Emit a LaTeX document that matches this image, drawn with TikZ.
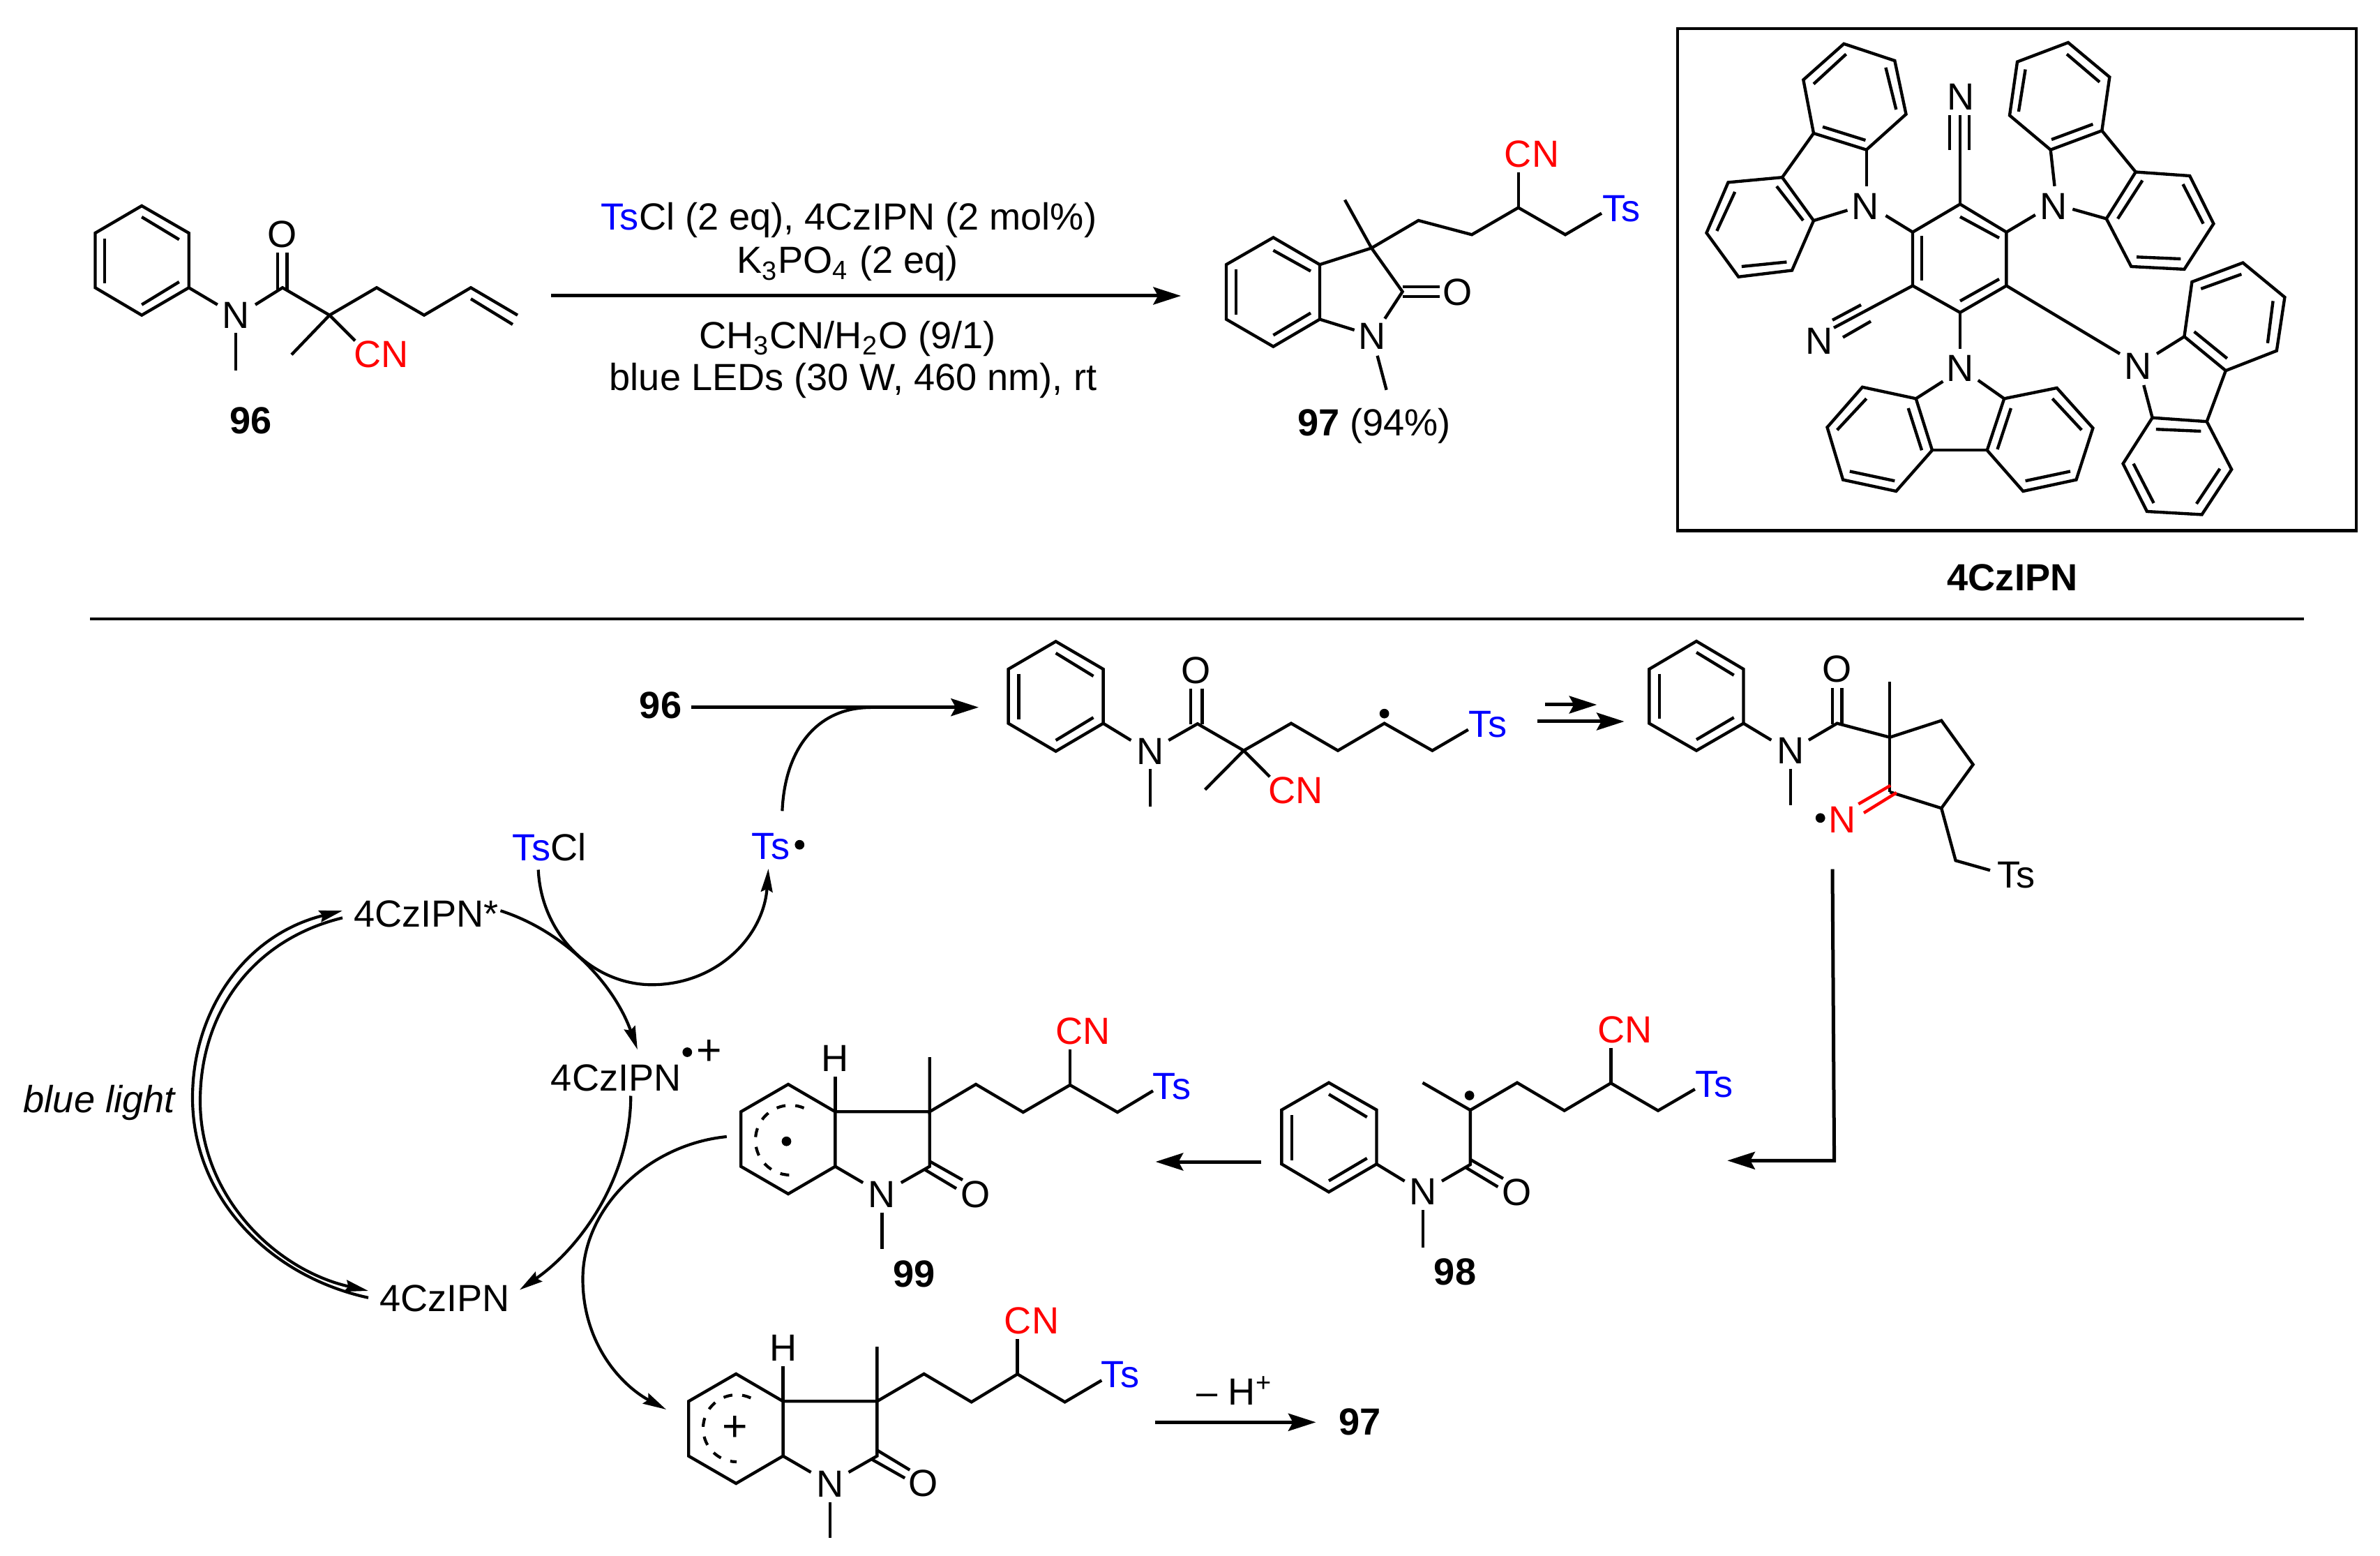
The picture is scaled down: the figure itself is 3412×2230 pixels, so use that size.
\documentclass[tikz,border=0pt]{standalone}
\usepackage{fontspec}
\setmainfont{Liberation Sans}
\usetikzlibrary{arrows.meta}
\tikzset{
  bond/.style={line width=1.05pt},
  redbond/.style={line width=1.05pt,color=red},
  thinarc/.style={line width=1pt},
  dasharc/.style={line width=1pt,dash pattern={on 3.1pt off 3.4pt}},
  mainarrow/.style={line width=1.2pt,-{Stealth[length=9.5pt,width=6pt,inset=1.6pt]}},
  curvearrow/.style={line width=1pt,-{Stealth[length=8pt,width=4pt,inset=1pt]}},
  atomlab/.style={inner sep=0.75pt,font=\fontsize{13}{15}\selectfont},
  boldlab/.style={inner sep=0.75pt,font=\fontsize{13}{15}\selectfont\bfseries},
  pluslab/.style={inner sep=0.75pt,font=\fontsize{15}{15}\selectfont},
  raddot/.style={circle,fill=black,inner sep=0pt,minimum size=3.3pt},
}
\newcommand{\cn}{\textcolor{red}{CN}}
\newcommand{\ts}{\textcolor{blue}{Ts}}
\begin{document}
\begin{tikzpicture}[x=0.24pt,y=0.24pt,yscale=-1,xscale=1]
\useasboundingbox (0,0) rectangle (3412,2230);

%Compound 96
\draw [bond] (203.2,295) -- (270.7,334) -- (270.7,412.3) -- (203.2,451.7) -- (136.5,412.3) -- (136.5,334) -- cycle ;
\draw [bond] (203.2,311) -- (256.8,343.3) ;
\draw [bond] (256.8,404) -- (203.2,436.7) ;
\draw [bond] (149.7,341.7) -- (149.7,406) ;
\draw [bond] (270.7,412.3) -- (311.8,436.7) ;
\draw [bond] (366,436.7) -- (405,412.3) -- (472.4,451.7) -- (540,412.3) -- (608,451.7) -- (675,412.3) -- (742,451.7) ;
\draw [bond] (675,428.3) -- (735,465) ;
\draw [bond] (398.3,362.3) -- (398.3,415) ;
\draw [bond] (411.5,362.3) -- (411.5,415) ;
\draw [bond] (472.4,451.7) -- (418,508.3) ;
\draw [bond] (472.4,451.7) -- (509,488.3) ;
\draw [bond] (338,477.3) -- (338,530.7) ;
% Text Node
\node [atomlab] (nA) at (338,452.3) {N};
\node [atomlab] (oA) at (405,336) {O};
\node [atomlab] (cnA) at (546.5,508.3) {\cn};
\node [boldlab] (lbl96) at (359.4,602.7) {96};

%Conditions
\coordinate (condstart) at (790,424);
\coordinate (condend) at (1693,424);
\draw [mainarrow] (condstart) -- (condend) ;
% Text Node
\node [atomlab] (condA) at (1217,316) {\ts Cl (2 eq), 4CzIPN (2 mol\%)};
\node [atomlab] (condB) at (1215,378) {K\textsubscript{3}PO\textsubscript{4} (2 eq)};
\node [atomlab] (condC) at (1215,485) {CH\textsubscript{3}CN/H\textsubscript{2}O (9/1)};
\node [atomlab] (condD) at (1223,545) {blue LEDs (30 W, 460 nm), rt};

%Compound 97
\draw [bond] (1825.4,340.4) -- (1892,379.2) -- (1892,457.6) -- (1825.4,496.7) -- (1758,457.6) -- (1758,379.2) -- cycle ;
\draw [bond] (1825.4,358.8) -- (1879,388.6) ;
\draw [bond] (1879,448.6) -- (1825.4,480.4) ;
\draw [bond] (1771.8,386) -- (1771.8,450.6) ;
\draw [bond] (1892,379.2) -- (1966.2,355.5) -- (2033.5,316) -- (2110,336.3) -- (2176.7,297.6) -- (2244,336.3) -- (2296,305.7) ;
\draw [bond] (1928,286.5) -- (1966.2,355.5) -- (2010.6,418) -- (1985.3,456.7) ;
\draw [bond] (1892,457.6) -- (1941.7,473) ;
\draw [bond] (2176.7,247.3) -- (2176.7,297.6) ;
\draw [bond] (2010.6,411) -- (2064,411) ;
\draw [bond] (2010.6,425.3) -- (2064,425.3) ;
\draw [bond] (1974.6,509.8) -- (1987.6,558.8) ;
% Text Node
\node [atomlab] (nB) at (1967,482) {N};
\node [atomlab] (oB) at (2089.4,419) {O};
\node [atomlab] (cnB) at (2196,221) {\cn};
\node [atomlab] (tsB) at (2324.4,298.8) {\ts};
\node [atomlab] (lbl97) at (1970,610) {\textbf{97} (94\%)};

%Box with 4CzIPN
\draw [bond] (2405,41) rectangle (3378,760.5) ;
%central ring
\draw [bond] (2810,292.6) -- (2876.4,332.7) -- (2876.4,409.5) -- (2810,447.9) -- (2742,409.5) -- (2742,332.7) -- cycle ;
\draw [bond] (2810,310.7) -- (2866,341) ;
\draw [bond] (2866,400) -- (2810,431.4) ;
\draw [bond] (2755,338) -- (2755,402.3) ;
%nitriles
\draw [bond] (2810,292.6) -- (2810,165.4) ;
\draw [bond] (2795,165.4) -- (2795,214.7) ;
\draw [bond] (2823,165.4) -- (2823,214.7) ;
\draw [bond] (2742,409.5) -- (2629,469.8) ;
\draw [bond] (2627,458.8) -- (2668,436.9) ;
\draw [bond] (2642,483.5) -- (2682,460.5) ;
%carbazole upper left
\draw [bond] (2742,332.7) -- (2703.4,309) ;
\draw [bond] (2675.7,214.7) -- (2675.7,266.8) ;
\draw [bond] (2600,316.2) -- (2648.5,301.4) ;
\draw [bond] (2675.7,214.7) -- (2732.5,163.7) -- (2716.3,87) -- (2643.4,62.8) -- (2585.3,114.4) -- (2600,191) -- cycle ;
\draw [bond] (2674.4,201) -- (2613,181.8) ;
\draw [bond] (2718.3,157) -- (2703.4,96.8) ;
\draw [bond] (2646.6,77.6) -- (2600,120.4) ;
\draw [bond] (2600,191) -- (2555,254.2) ;
\draw [bond] (2555,254.2) -- (2600,316.2) -- (2569,387.5) -- (2492.3,396.8) -- (2446.5,333.8) -- (2477.5,261.4) -- cycle ;
\draw [bond] (2547,267) -- (2585,316) ;
\draw [bond] (2561.4,375.5) -- (2496.8,382) ;
\draw [bond] (2461.3,331) -- (2487.2,275) ;
%carbazole upper right
\draw [bond] (2876.4,332.7) -- (2917.8,308) ;
\draw [bond] (2939.7,214.7) -- (2945.5,266.8) ;
\draw [bond] (2971.3,299.8) -- (3019.7,313.5) ;
\draw [bond] (2939.7,214.7) -- (2881,165.4) -- (2892,88.6) -- (2964.9,61) -- (3024.3,110.5) -- (3013.3,187.3) -- cycle ;
\draw [bond] (2941,200) -- (3000.4,178) ;
\draw [bond] (2893.9,160) -- (2903.6,99.5) ;
\draw [bond] (2963,77.6) -- (3010,117.6) ;
\draw [bond] (3013.3,187.3) -- (3061.7,246.5) ;
\draw [bond] (3061.7,246.5) -- (3139.2,252) -- (3173.4,320.6) -- (3131.4,385.9) -- (3055.3,382) -- (3019.7,313.5) -- cycle ;
\draw [bond] (3071.4,258.6) -- (3036,313.5) ;
\draw [bond] (3129.5,264) -- (3158.6,320.6) ;
\draw [bond] (3126.3,371) -- (3063,368.3) ;
%carbazole bottom
\draw [bond] (2810,447.9) -- (2810,500) ;
\draw [bond] (2785.4,546.6) -- (2746.7,571.3) ;
\draw [bond] (2835.8,545) -- (2873.2,571.3) ;
\draw [bond] (2746.7,571.3) -- (2669.9,554.8) -- (2619.5,612.4) -- (2642.1,687.6) -- (2718.3,704) -- (2770,645.3) -- cycle ;
\draw [bond] (2675.7,571.3) -- (2633.7,616.3) ;
\draw [bond] (2651.8,675.5) -- (2716.3,689.2) ;
\draw [bond] (2735.7,585) -- (2755,645.3) ;
\draw [bond] (2770,645.3) -- (2848.7,645.3) ;
\draw [bond] (2873.2,571.3) -- (2948.7,556) -- (3000.4,613.5) -- (2976.5,687.6) -- (2900.3,704) -- (2848.7,645.3) -- cycle ;
\draw [bond] (2942.3,571.3) -- (2984.2,616.3) ;
\draw [bond] (2968,675.5) -- (2903.6,689.2) ;
\draw [bond] (2882.9,585) -- (2863.5,644) ;
%carbazole right
\draw [bond] (2876.4,409.5) -- (3039,507) ;
\draw [bond] (3092,507) -- (3131.4,482.4) ;
\draw [bond] (3073.3,552) -- (3085.6,598.7) ;
\draw [bond] (3131.4,482.4) -- (3142.4,404) -- (3215.4,376.6) -- (3275.4,426) -- (3263.8,502.7) -- (3190.8,531.2) -- cycle ;
\draw [bond] (3155.3,413.9) -- (3213.4,393) ;
\draw [bond] (3258.6,431.4) -- (3250.9,491.8) ;
\draw [bond] (3145.6,475.3) -- (3192.8,513.7) ;
\draw [bond] (3190.8,531.2) -- (3163.7,604.2) ;
\draw [bond] (3085.6,598.7) -- (3163.7,604.2) -- (3199.2,672.8) -- (3156.6,737.5) -- (3077.9,733) -- (3043.6,664.5) -- cycle ;
\draw [bond] (3155.3,618) -- (3090.8,615.2) ;
\draw [bond] (3182.4,671.7) -- (3148.9,722) ;
\draw [bond] (3087.6,721) -- (3058.5,664.5) ;
% Text Node
\node [atomlab] (nCa) at (2810.6,139) {N};
\node [atomlab] (nCb) at (2608,489) {N};
\node [atomlab] (nCc) at (2674.4,296) {N};
\node [atomlab] (nCd) at (2943.6,296) {N};
\node [atomlab] (nCe) at (2810,527.4) {N};
\node [atomlab] (nCf) at (3065,524.7) {N};
\node [boldlab] (lblcz) at (2885,828) {4CzIPN};

%Separator
\draw [bond] (129,887) -- (3303,887) ;

% Text Node
\node [boldlab] (lbl96b) at (947,1010.7) {96};
\coordinate (startrad) at (991,1013.7);
\coordinate (endrad) at (1403,1013.7);
\draw [mainarrow] (startrad) -- (endrad) ;

%Radical adduct
\draw [bond] (1513.6,919.3) -- (1581.6,959) -- (1581.6,1036.7) -- (1513.6,1076.7) -- (1445.6,1036.7) -- (1445.6,959) -- cycle ;
\draw [bond] (1513.6,936) -- (1567.5,969) ;
\draw [bond] (1567.5,1028.3) -- (1513.6,1061) ;
\draw [bond] (1460.5,965.7) -- (1460.5,1031) ;
\draw [bond] (1581.6,1036.7) -- (1621.4,1061) ;
\draw [bond] (1675.3,1061) -- (1716.8,1037.3) -- (1783,1075.7) -- (1851,1036.7) -- (1918,1075.7) -- (1984.6,1036.7) -- (2053.4,1075.7) -- (2104.8,1045.7) ;
\draw [bond] (1706.8,986.7) -- (1706.8,1038.3) ;
\draw [bond] (1723.4,986.7) -- (1723.4,1038.3) ;
\draw [bond] (1783,1075.7) -- (1727.5,1131.7) ;
\draw [bond] (1783,1075.7) -- (1820.4,1113.3) ;
\draw [bond] (1648.8,1102.3) -- (1648.8,1156) ;
% Text Node
\node [atomlab] (nD) at (1648.8,1076.7) {N};
\node [atomlab] (oD) at (1715,960.7) {O};
\node [atomlab] (cnD) at (1857.7,1132.7) {\cn};
\node [atomlab] (tsD) at (2133,1038.3) {\ts};
\node [raddot] (dotD) at (1984.6,1022.7) {};

%Cyclisation arrows
\coordinate (stepastart) at (2215.3,1010);
\coordinate (stepaend) at (2289.3,1010);
\coordinate (stepbstart) at (2204,1034);
\coordinate (stepbend) at (2328.6,1034);
\draw [mainarrow] (stepastart) -- (stepaend) ;
\draw [mainarrow] (stepbstart) -- (stepbend) ;

%Iminyl radical
\draw [bond] (2432,919) -- (2499.5,959) -- (2499.5,1036.7) -- (2432,1075.7) -- (2364.3,1036.7) -- (2364.3,959) -- cycle ;
\draw [bond] (2432,935) -- (2485.7,967.7) ;
\draw [bond] (2485.7,1028.3) -- (2432,1060) ;
\draw [bond] (2379,965.7) -- (2379,1030) ;
\draw [bond] (2499.5,1036.7) -- (2539.3,1060.7) ;
\draw [bond] (2592.9,1060.7) -- (2633.7,1036.7) -- (2709.2,1056.7) ;
\draw [bond] (2627,986) -- (2627,1038.3) ;
\draw [bond] (2640.3,986) -- (2640.3,1038.3) ;
\draw [bond] (2709.2,977.3) -- (2709.2,1135) ;
\draw [bond] (2709.2,1056.7) -- (2783.2,1032.7) -- (2828.6,1095.7) -- (2783.2,1158.3) -- (2709.2,1135) ;
\draw [redbond] (2710.2,1125.7) -- (2664.3,1152.3) ;
\draw [redbond] (2718.9,1136) -- (2672,1165) ;
\draw [bond] (2783.2,1158.3) -- (2803.6,1233.3) -- (2853,1247.3) ;
\draw [bond] (2566.8,1101.7) -- (2566.8,1154.3) ;
% Text Node
\node [atomlab] (nE) at (2567.3,1076) {N};
\node [atomlab] (oE) at (2633.7,959.3) {O};
\node [atomlab,text=red] (nF) at (2641.3,1175) {N};
\node [raddot] (dotE) at (2609.7,1172.3) {};
\node [atomlab] (tsE) at (2890.3,1254.3) {Ts};

%Arrow down to 98
\coordinate (downstart) at (2627,1245.7);
\coordinate (downbend) at (2629.6,1663.3);
\coordinate (downend) at (2476.3,1663.3);
\draw [mainarrow] (downstart) -- (downbend) -- (downend) ;

%Compound 98
\draw [bond] (1905,1551.7) -- (1973.5,1590.7) -- (1973.5,1668.3) -- (1905,1708.3) -- (1837.4,1668.3) -- (1837.4,1590.7) -- cycle ;
\draw [bond] (1905,1568.3) -- (1959.7,1601) ;
\draw [bond] (1959.7,1660) -- (1905,1692.3) ;
\draw [bond] (1851.8,1598.3) -- (1851.8,1662.7) ;
\draw [bond] (1973.5,1668.3) -- (2013.6,1692.7) ;
\draw [bond] (2067,1692.7) -- (2107.8,1669) -- (2107.8,1591) -- (2175,1551.7) -- (2242.7,1591.7) -- (2309.3,1552.3) -- (2377,1591.7) -- (2429.8,1561) ;
\draw [bond] (2039.5,1551.7) -- (2107.8,1591) ;
\draw [bond] (2309.3,1501.7) -- (2309.3,1552.3) ;
\draw [bond] (2107.8,1661.7) -- (2154.9,1689) ;
\draw [bond] (2101.5,1673.3) -- (2147.4,1701) ;
\draw [bond] (2040,1734.3) -- (2040,1787.7) ;
% Text Node
\node [atomlab] (nG) at (2040,1708.3) {N};
\node [atomlab] (oG) at (2175,1709.3) {O};
\node [atomlab] (cnG) at (2329.4,1476) {\cn};
\node [atomlab] (tsG) at (2457.4,1554) {\ts};
\node [raddot] (dotG) at (2106.6,1570) {};
\node [boldlab] (lbl98) at (2086,1823) {98};

\coordinate (leftstart) at (1807.6,1665);
\coordinate (leftend) at (1656.6,1665);
\draw [mainarrow] (leftstart) -- (leftend) ;

%Compound 99
\draw [bond] (1130,1554) -- (1197.4,1593.3) -- (1197.4,1671.7) -- (1130,1711) -- (1062.2,1671.7) -- (1062.2,1593.3) -- cycle ;
\draw [bond] (1197.4,1593.3) -- (1332.7,1593.3) -- (1332.7,1671.7) -- (1291.8,1695) ;
\draw [bond] (1197.4,1671.7) -- (1237.2,1695) ;
\draw [bond] (1332.7,1515) -- (1332.7,1593.3) -- (1399,1554) -- (1466.8,1594) -- (1534,1555) -- (1602,1594) -- (1653,1563.3) ;
\draw [bond] (1534,1504.3) -- (1534,1555) ;
\draw [bond] (1197.4,1543.3) -- (1197.4,1593.3) ;
\draw [bond] (1332.7,1664.3) -- (1380,1691) ;
\draw [bond] (1326.5,1676.7) -- (1371,1703.3) ;
\draw [bond] (1264.3,1737.7) -- (1264.3,1790) ;
\draw [dasharc] (1133,1634) ++(-67:50) arc[start angle=-67,end angle=-271,radius=50] ;
% Text Node
\node [atomlab] (hH) at (1197,1517.3) {H};
\node [atomlab] (nH) at (1264.3,1711.7) {N};
\node [atomlab] (oH) at (1399,1711.7) {O};
\node [atomlab] (cnH) at (1552.6,1478.3) {\cn};
\node [atomlab] (tsH) at (1680,1556.7) {\ts};
\node [raddot] (dotH) at (1127.5,1635.7) {};
\node [boldlab] (lbl99) at (1310.2,1826) {99};

%Cation
\draw [bond] (1055.2,1969) -- (1122.6,2008.3) -- (1122.6,2086.7) -- (1055.2,2126) -- (987.2,2086.7) -- (987.2,2008.3) -- cycle ;
\draw [bond] (1122.6,2008.3) -- (1257.3,2008.3) -- (1257.3,2086.7) -- (1216.6,2110) ;
\draw [bond] (1122.6,2086.7) -- (1162.6,2110) ;
\draw [bond] (1257.3,1930) -- (1257.3,2008.3) -- (1324.6,1969) -- (1392.7,2009.3) -- (1458.6,1969.3) -- (1526.6,2009.3) -- (1579.3,1978.3) ;
\draw [bond] (1458.6,1919.3) -- (1458.6,1969.3) ;
\draw [bond] (1122.6,1957.7) -- (1122.6,2008.3) ;
\draw [bond] (1257.3,2078.3) -- (1304.3,2106.7) ;
\draw [bond] (1250.2,2091.7) -- (1297.2,2118.3) ;
\draw [bond] (1190,2152.7) -- (1190,2204.3) ;
\draw [dasharc] (1056,2047) ++(-65:48) arc[start angle=-65,end angle=-270,radius=48] ;
% Text Node
\node [atomlab] (hI) at (1122.6,1931.7) {H};
\node [atomlab] (nI) at (1190,2126.7) {N};
\node [atomlab] (oI) at (1324,2126) {O};
\node [atomlab] (cnI) at (1479,1893.3) {\cn};
\node [atomlab] (tsI) at (1606,1970) {\ts};
\node [pluslab] (plusI) at (1053.8,2047.3) {+};

\coordinate (laststart) at (1656.4,2038.3);
\coordinate (lastend) at (1886.5,2038.3);
\draw [mainarrow] (laststart) -- (lastend) ;
% Text Node
\node [atomlab] (lossH) at (1770,1993) {– H\textsuperscript{+}};
\node [boldlab] (lbl97b) at (1949.6,2038.3) {97};

%Photocatalyst cycle
% Text Node
\node [atomlab] (czstar) at (611,1310) {4CzIPN*};
\node [atomlab] (czcat) at (883.3,1545) {4CzIPN};
\node [raddot] (dotcat) at (985.3,1508) {};
\node [pluslab] (pluscat) at (1016.8,1508.3) {+};
\node [atomlab] (czground) at (637.8,1861.3) {4CzIPN};
\node [atomlab,font=\fontsize{13}{15}\selectfont\itshape] (bluelight) at (142.2,1580) {blue light};
\node [atomlab] (tscl) at (787.6,1214.4) {\ts Cl};
\node [atomlab] (tsrad) at (1105,1213.3) {\ts};
\node [raddot] (dottsrad) at (1146.3,1210.7) {};

\coordinate (outerstart) at (528,1859.8);
\coordinate (outerend) at (491,1305.2);
\coordinate (innerstart) at (491,1315.4);
\coordinate (innerend) at (528,1850);
\draw [curvearrow] (outerstart) .. controls (390,1830) and (276,1720) .. (276,1573) .. controls (276,1450) and (350,1340) .. (outerend) ;
\draw [curvearrow] (innerstart) .. controls (358,1348) and (287,1455) .. (287,1578) .. controls (287,1715) and (395,1820) .. (innerend) ;

\coordinate (staroff) at (717.5,1305.2);
\coordinate (catin) at (913.9,1504.2);
\draw [curvearrow] (staroff) .. controls (810,1335) and (880,1410) .. (catin) ;
\coordinate (catoff) at (904.3,1570.5);
\coordinate (groundin) at (744.9,1848.6);
\draw [curvearrow] (catoff) .. controls (904,1690) and (830,1790) .. (groundin) ;

\coordinate (tsclout) at (771.7,1246.5);
\coordinate (tsradin) at (1101.5,1245);
\draw [curvearrow] (tsclout) .. controls (776,1340) and (850,1411) .. (934.3,1411.3) .. controls (1030,1411) and (1095,1340) .. (tsradin) ;
\coordinate (tsradout) at (1121.4,1162.3);
\coordinate (joinline) at (1248,1014);
\draw [thinarc] (tsradout) .. controls (1125,1075) and (1170,1014) .. (joinline) ;

\coordinate (ringout) at (1041.8,1629);
\coordinate (cationin) at (955,2020);
\draw [curvearrow] (ringout) .. controls (930,1640) and (835.5,1730) .. (835.5,1833) .. controls (835.5,1925) and (890,1985) .. (cationin) ;
\end{tikzpicture}
\end{document}
